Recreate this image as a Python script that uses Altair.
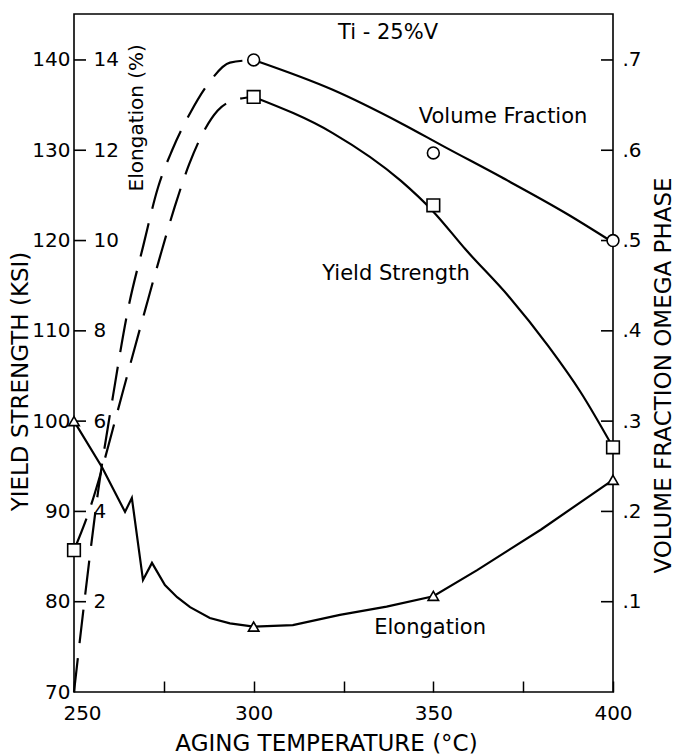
import altair as alt
import pandas as pd

FONT = "DejaVu Sans"

# ---------------- data ----------------
pt_temp = [250, 300, 350, 400]
yield_pts = [85.7, 135.9, 123.9, 97.1]      # ksi
elong_pts = [6.0, 1.45, 2.13, 4.70]         # %
vf_temp = [300, 350, 400]
vf_pts = [0.70, 0.597, 0.50]                # volume fraction

ys_dash_t = [250, 254, 258, 262, 266, 270, 274, 278, 282, 286, 290, 295, 300]
ys_dash_v = [85.7, 89.8, 95.0, 100.9, 106.8, 112.6, 118.3, 123.7, 128.4, 132.0, 134.4, 135.6, 135.9]
ys_solid_t = [300, 322, 341, 350, 359, 371, 382, 391, 400]
ys_solid_v = [135.9, 131.9, 126.6, 123.2, 119.0, 113.8, 108.3, 103.2, 97.1]

vf_dash_t = [250.0, 253.6, 256.7, 260.9, 265.0, 269.2, 273.4, 277.3, 282.3, 287.8, 293.4, 300.0]
vf_dash_v = [0.000, 0.124, 0.222, 0.329, 0.423, 0.493, 0.559, 0.600, 0.641, 0.676, 0.697, 0.700]
vf_solid_t = [300, 322, 341, 353, 369, 387, 400]
vf_solid_v = [0.700, 0.667, 0.630, 0.604, 0.570, 0.530, 0.498]

el_t = [250.0, 257.8, 264.2, 266.1, 269.2, 271.7, 275.3, 278.7, 282.3, 287.8, 293.4,
        300.0, 310.9, 324.0, 337.0, 350.0, 362.2, 380.0, 400.0]
el_v = [6.00, 4.98, 3.99, 4.30, 2.48, 2.86, 2.37, 2.10, 1.88, 1.64, 1.52,
        1.45, 1.48, 1.71, 1.89, 2.12, 2.70, 3.60, 4.70]

ksi_ticks = [70, 80, 90, 100, 110, 120, 130, 140]
inner_ticks = [80, 90, 100, 110, 120, 130, 140]
temp_labels = [250, 300, 350, 400]
temp_ticks = [250, 275, 300, 325, 350, 375, 400]

ann_text = ["Ti - 25%V", "Volume Fraction", "Yield Strength", "Elongation"]
ann_temp = [337.4, 369.4, 339.6, 349.1]
ann_ksi = [143.0, 133.7, 116.3, 77.1]
rot_text = ["Elongation (%)"]
rot_temp = [267.5]
rot_ksi = [133.6]


def tbl(t, v, qty):
    return pd.DataFrame({"temp": t, "v": v, "qty": qty})

ys_dash = tbl(ys_dash_t, ys_dash_v, "ys")
ys_solid = tbl(ys_solid_t, ys_solid_v, "ys")
vf_dash = tbl(vf_dash_t, vf_dash_v, "vf")
vf_solid = tbl(vf_solid_t, vf_solid_v, "vf")
el_line = tbl(el_t, el_v, "el")
ys_p = tbl(pt_temp, yield_pts, "ys")
el_p = tbl(pt_temp, elong_pts, "el")
vf_p = tbl(vf_temp, vf_pts, "vf")
ann = pd.DataFrame({"temp": ann_temp, "v": ann_ksi, "qty": "ys", "txt": ann_text})
rot = pd.DataFrame({"temp": rot_temp, "v": rot_ksi, "qty": "ys", "txt": rot_text})
ticks_df = pd.DataFrame({"tv": inner_ticks})

# every quantity is drawn on the common (aligned) vertical scale
CALC = "datum.qty == 'vf' ? 70 + 100 * datum.v : (datum.qty == 'el' ? 70 + 5 * datum.v : datum.v)"

xs = alt.Scale(domain=[250, 400], nice=False, zero=False)
ysc = alt.Scale(domain=[70, 145.09], nice=False, zero=False)

W, H = 539, 678
LBL = 20
TTL = 23
TICK = 12

ax_x_labels = alt.Axis(
    orient="bottom", values=temp_labels, ticks=False, domain=False, grid=False,
    labelPadding=11, labelFontSize=LBL, labelFlush=False, labelOverlap=False,
    labelOffset={"condition": {"test": "datum.value == 250", "value": 8}, "value": 0},
    title="AGING TEMPERATURE (°C)", titleFontSize=TTL, titleX=252, titleY=51,
    titleAlign="center", titleBaseline="middle",
)
ax_x_ticks = alt.Axis(
    orient="top", offset=-H, values=temp_ticks, labels=False, ticks=True, tickSize=11,
    tickWidth=1.5, domain=False, grid=False, title=None,
)
ax_y_left = alt.Axis(
    orient="left", values=ksi_ticks, ticks=False, domain=False, grid=False,
    labelPadding=4, labelFontSize=LBL, labelOverlap=False, labelFlush=False,
    title="YIELD STRENGTH (KSI)", titleFontSize=TTL, titleX=-54, titleY=367,
    titleAngle=270, titleAlign="center", titleBaseline="middle",
)
ax_y_el = alt.Axis(
    orient="right", offset=-W, values=inner_ticks,
    labelExpr="'' + round((datum.value - 70) / 5)",
    ticks=False, domain=False, grid=False,
    labelPadding=19, labelFontSize=LBL, labelOverlap=False, labelFlush=False, title=None,
)
ax_y_vf_labels = alt.Axis(
    orient="right", values=inner_ticks,
    labelExpr="'.' + round((datum.value - 70) / 10)",
    ticks=False, domain=False, grid=False, labelPadding=9, labelFontSize=LBL,
    labelOverlap=False, labelFlush=False,
    title="VOLUME FRACTION OMEGA PHASE", titleFontSize=TTL, titleX=50, titleY=361,
    titleAngle=270, titleAlign="center", titleBaseline="middle",
)

LW = 2.2
DASH = [34, 15]


def line(df, xaxis, yaxis, dashed=False):
    kw = dict(color="black", strokeWidth=LW, interpolate="monotone")
    if dashed:
        kw["strokeDash"] = DASH
    return (
        alt.Chart(df)
        .transform_calculate(y=CALC)
        .mark_line(**kw)
        .encode(
            x=alt.X("temp:Q", scale=xs, axis=xaxis),
            y=alt.Y("y:Q", scale=ysc, axis=yaxis),
            order="temp:Q",
        )
    )


l_ys_dash = line(ys_dash, ax_x_labels, ax_y_left, dashed=True)
l_ys_solid = line(ys_solid, ax_x_ticks, ax_y_el)
l_vf_dash = line(vf_dash, None, None, dashed=True)
l_vf_solid = line(vf_solid, None, ax_y_vf_labels)

l_el = (
    alt.Chart(el_line)
    .transform_calculate(y=CALC)
    .mark_line(color="black", strokeWidth=LW, interpolate="linear", strokeJoin="miter")
    .encode(
        x=alt.X("temp:Q", scale=xs, axis=None),
        y=alt.Y("y:Q", scale=ysc, axis=None),
        order="temp:Q",
    )
)

# inward tick marks on the left and right frame edges
tick_left = (
    alt.Chart(ticks_df)
    .mark_rule(color="black", strokeWidth=1.6)
    .encode(
        x=alt.value(0),
        x2=alt.value(TICK),
        y=alt.Y("tv:Q", scale=ysc, axis=None),
    )
)
tick_right = (
    alt.Chart(ticks_df)
    .mark_rule(color="black", strokeWidth=1.6)
    .encode(
        x=alt.value(W - TICK),
        x2=alt.value(W),
        y=alt.Y("tv:Q", scale=ysc, axis=None),
    )
)


def pts(df, shape, size):
    return (
        alt.Chart(df)
        .transform_calculate(y=CALC)
        .mark_point(shape=shape, size=size, filled=True, fill="white", stroke="black",
                    strokeWidth=1.6, opacity=1)
        .encode(
            x=alt.X("temp:Q", scale=xs, axis=None),
            y=alt.Y("y:Q", scale=ysc, axis=None),
        )
    )


p_vf = pts(vf_p, "circle", 140)
p_ys = pts(ys_p, "square", 160)
p_el = pts(el_p, "triangle-up", 110)

t_ann = (
    alt.Chart(ann)
    .transform_calculate(y=CALC)
    .mark_text(font=FONT, fontSize=21, color="black", align="center", baseline="middle")
    .encode(
        x=alt.X("temp:Q", scale=xs, axis=None),
        y=alt.Y("y:Q", scale=ysc, axis=None),
        text="txt:N",
    )
)
t_rot = (
    alt.Chart(rot)
    .transform_calculate(y=CALC)
    .mark_text(font=FONT, fontSize=20, color="black", align="center", baseline="middle", angle=270)
    .encode(
        x=alt.X("temp:Q", scale=xs, axis=None),
        y=alt.Y("y:Q", scale=ysc, axis=None),
        text="txt:N",
    )
)

chart = (
    alt.layer(tick_left, tick_right, l_ys_dash, l_ys_solid, l_vf_dash, l_vf_solid, l_el,
              p_vf, p_ys, p_el, t_ann, t_rot)
    .resolve_axis(x="independent", y="independent")
    .properties(
        width=W, height=H,
        padding={"left": 74, "top": 14, "right": 61, "bottom": 62},
        autosize=alt.AutoSizeParams(type="none"),
        background="white",
    )
    .configure_view(stroke="black", strokeWidth=1.6)
    .configure_axis(
        labelColor="black", tickColor="black", titleColor="black",
        labelFont=FONT, titleFont=FONT, titleFontWeight="normal",
    )
)

chart.save("out.html", embed_options={"renderer": "svg", "actions": False})
